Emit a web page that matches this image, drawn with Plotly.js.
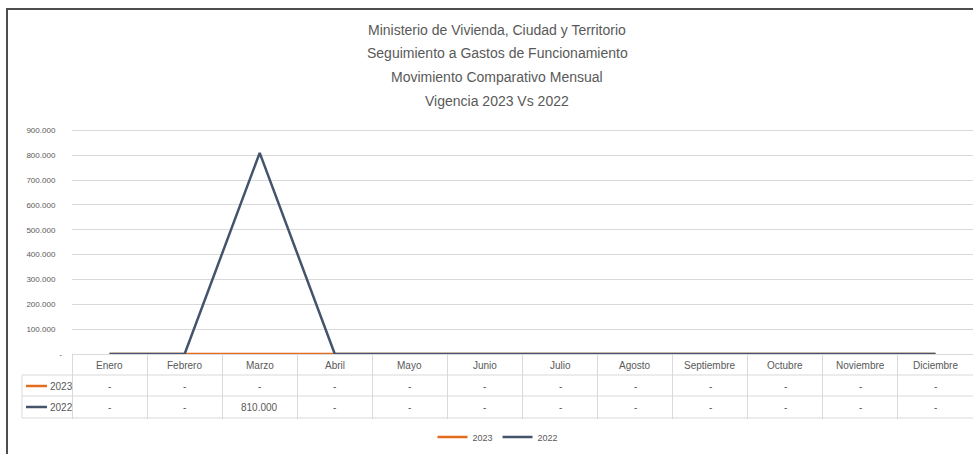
<!DOCTYPE html>
<html><head><meta charset="utf-8">
<script src="https://cdn.plot.ly/plotly-3.0.1.min.js"></script>
<style>html,body{margin:0;padding:0;background:#fff;overflow:hidden;}#chart{width:973px;height:454px;}</style>
</head><body><div id="chart"></div>
<script>
const titleLines = ['Ministerio de Vivienda, Ciudad y Territorio','Seguimiento a Gastos de Funcionamiento','Movimiento Comparativo Mensual','Vigencia 2023 Vs 2022'];
const months = ['Enero','Febrero','Marzo','Abril','Mayo','Junio','Julio','Agosto','Septiembre','Octubre','Noviembre','Diciembre'];
const series2023 = [0,0,0,0,0,0,0,0,0,0,0,0];
const series2022 = [0,0,810000,0,0,0,0,0,0,0,0,0];
const seriesNames = ['2023','2022'];
const yTicks = [0,100000,200000,300000,400000,500000,600000,700000,800000,900000];

const C2023 = '#E36C1E', C2022 = '#44546A';
const FONT = 'Liberation Sans Narrow, Liberation Sans, Arial, sans-serif';
const TXT = '#595959', GRID = '#D9D9D9';

function fmt(v){ if(v===0) return '-'; return String(v).replace(/\B(?=(\d{3})+(?!\d))/g,'.'); }

// pixel -> paper helpers (plot area: x 72..973, y 128..354)
const L=72, W=901, T=128, H=226;
const px = x => (x-L)/W;
const py = y => (T+H-y)/H;

const traces = [
  {x: months, y: series2023, name: seriesNames[0], type:'scatter', mode:'lines', line:{color:C2023, width:2.5}, cliponaxis:false},
  {x: months, y: series2022, name: seriesNames[1], type:'scatter', mode:'lines', line:{color:C2022, width:2.5}, cliponaxis:false}
];

const annotations = [];
const titleY = [30,53,77,101];
titleLines.forEach((t,i)=>annotations.push({text:t, xref:'paper', yref:'paper', x:px(497), y:py(titleY[i]), xanchor:'center', yanchor:'middle', showarrow:false, font:{family:FONT, size:14, color:TXT}}));
months.forEach((m,i)=>{
  annotations.push({text:m, xref:'x', yref:'paper', x:m, y:py(365), xanchor:'center', yanchor:'middle', showarrow:false, font:{family:FONT, size:10, color:TXT}});
  annotations.push({text:fmt(series2023[i]), xref:'x', yref:'paper', x:m, y:py(386), xanchor:'center', yanchor:'middle', showarrow:false, font:{family:FONT, size:10, color:TXT}});
  annotations.push({text:fmt(series2022[i]), xref:'x', yref:'paper', x:m, y:py(407), xanchor:'center', yanchor:'middle', showarrow:false, font:{family:FONT, size:10, color:TXT}});
});
annotations.push({text:seriesNames[0], xref:'paper', yref:'paper', x:px(48), y:py(386), xanchor:'left', yanchor:'middle', showarrow:false, font:{family:FONT, size:10, color:TXT}});
annotations.push({text:seriesNames[1], xref:'paper', yref:'paper', x:px(48), y:py(407), xanchor:'left', yanchor:'middle', showarrow:false, font:{family:FONT, size:10, color:TXT}});

const shapes = [];
// table horizontal rules
[375,396,418].forEach(y=>shapes.push({type:'line', xref:'paper', yref:'paper', x0:px(22), x1:1, y0:py(y), y1:py(y), line:{color:GRID, width:1}}));
// table left edge of label column
shapes.push({type:'line', xref:'paper', yref:'paper', x0:px(22), x1:px(22), y0:py(375), y1:py(418), line:{color:GRID, width:1}});
// legend keys in the table
shapes.push({type:'line', xref:'paper', yref:'paper', x0:px(26), x1:px(47), y0:py(386), y1:py(386), line:{color:C2023, width:2.5}});
shapes.push({type:'line', xref:'paper', yref:'paper', x0:px(26), x1:px(47), y0:py(407), y1:py(407), line:{color:C2022, width:2.5}});
// outer frame (left and top edges visible)
shapes.push({type:'line', xref:'paper', yref:'paper', x0:px(7), x1:px(7), y0:py(470), y1:py(9), line:{color:'#4D4D4D', width:2}});
shapes.push({type:'line', xref:'paper', yref:'paper', x0:px(6), x1:px(1000), y0:py(9), y1:py(9), line:{color:'#4D4D4D', width:2}});

const pad = '\u00a0\u00a0\u00a0';
const layout = {
  width:973, height:454,
  margin:{l:L, r:0, t:T, b:454-T-H, pad:0},
  paper_bgcolor:'#fff', plot_bgcolor:'#fff',
  font:{family:FONT, color:TXT},
  showlegend:true,
  legend:{orientation:'h', x:px(498), xanchor:'center', y:py(437), yanchor:'middle', font:{family:FONT, size:9, color:TXT}, bgcolor:'rgba(0,0,0,0)'},
  xaxis:{type:'category', range:[-0.5,11.5], showgrid:false, zeroline:false, showline:true, linecolor:GRID, linewidth:1,
         ticks:'outside', tickson:'boundaries', ticklen:64, tickcolor:GRID, tickwidth:1, showticklabels:false, fixedrange:true},
  yaxis:{range:[0,910000], tickvals:yTicks, ticktext:yTicks.map(v=>v===0?'-':fmt(v)+pad), showgrid:true, gridcolor:GRID, gridwidth:1,
         zeroline:false, showline:false, ticks:'', ticklabelstandoff:9, tickfont:{family:FONT, size:8, color:TXT}, fixedrange:true},
  annotations, shapes
};
Plotly.newPlot('chart', traces, layout, {displayModeBar:false, staticPlot:true});
</script></body></html>
